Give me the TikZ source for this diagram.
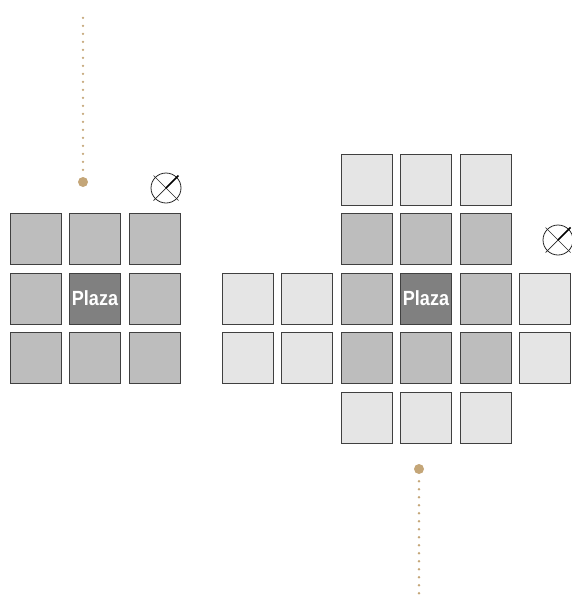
\documentclass[tikz,border=0pt]{standalone}
\usepackage{fontspec}
\setmainfont{Liberation Sans}
\begin{document}
\begin{tikzpicture}[x=1pt,y=-1pt,
  cell/.style={draw=black!75,line width=0.9pt,minimum size=51pt,inner sep=0pt},
  light/.style={cell,fill=black!10},
  mid/.style={cell,fill=black!26},
  plaza/.style={cell,fill=black!50,text=white,font=\fontsize{20.5}{20.5}\selectfont\bfseries},
  tan/.style={color={rgb,255:red,196;green,166;blue,120}},
  dotline/.style={draw={rgb,255:red,196;green,166;blue,120},line width=2.6pt,line cap=round,dash pattern=on 0pt off 8pt},
  pin/.style={circle,fill,tan,inner sep=0pt,minimum size=10pt},
  compass/.style={circle,draw=black!85,line width=0.8pt,minimum size=30pt,inner sep=0pt}
]
\useasboundingbox (0,0) rectangle (572,600);
% left grid
\node[mid] (l11) at (35.5,239) {};
\node[mid] (l12) at (95,239) {};
\node[mid] (l13) at (154.5,239) {};
\node[mid] (l21) at (35.5,298.5) {};
\node[plaza] (l22) at (95,298.5) {\scalebox{0.88}[1]{Plaza}};
\node[mid] (l23) at (154.5,298.5) {};
\node[mid] (l31) at (35.5,358) {};
\node[mid] (l32) at (95,358) {};
\node[mid] (l33) at (154.5,358) {};
% right grid
\node[light] (r03) at (366.5,180) {};
\node[light] (r04) at (426,180) {};
\node[light] (r05) at (485.5,180) {};
\node[mid] (r13) at (366.5,239) {};
\node[mid] (r14) at (426,239) {};
\node[mid] (r15) at (485.5,239) {};
\node[light] (r21) at (247.5,298.5) {};
\node[light] (r22) at (307,298.5) {};
\node[mid] (r23) at (366.5,298.5) {};
\node[plaza] (r24) at (426,298.5) {\scalebox{0.88}[1]{Plaza}};
\node[mid] (r25) at (485.5,298.5) {};
\node[light] (r26) at (545,298.5) {};
\node[light] (r31) at (247.5,358) {};
\node[light] (r32) at (307,358) {};
\node[mid] (r33) at (366.5,358) {};
\node[mid] (r34) at (426,358) {};
\node[mid] (r35) at (485.5,358) {};
\node[light] (r36) at (545,358) {};
\node[light] (r43) at (366.5,417.5) {};
\node[light] (r44) at (426,417.5) {};
\node[light] (r45) at (485.5,417.5) {};
% pins and dotted leaders
\node[pin] (pl) at (83,182) {};
\coordinate (tl) at (83,14);
\draw[dotline] (pl.north) ++(0,-7) -- (tl);
\node[pin] (pr) at (419,469) {};
\coordinate (br) at (419,594);
\draw[dotline] (pr.south) ++(0,7) -- (br);
% compasses
\foreach \n/\p in {cl/{(166,188)}, cr/{(558,240)}} {
  \node[compass] (\n) at \p {};
  \draw[black!85,line width=0.7pt] (\n.center) ++(-12.5,-12.5) -- ++(25,25);
  \draw[black!85,line width=0.7pt] (\n.center) -- ++(-12.5,12.5);
  \draw[black,line width=1.6pt] (\n.center) -- ++(12.5,-12.5);
}
\end{tikzpicture}
\end{document}
